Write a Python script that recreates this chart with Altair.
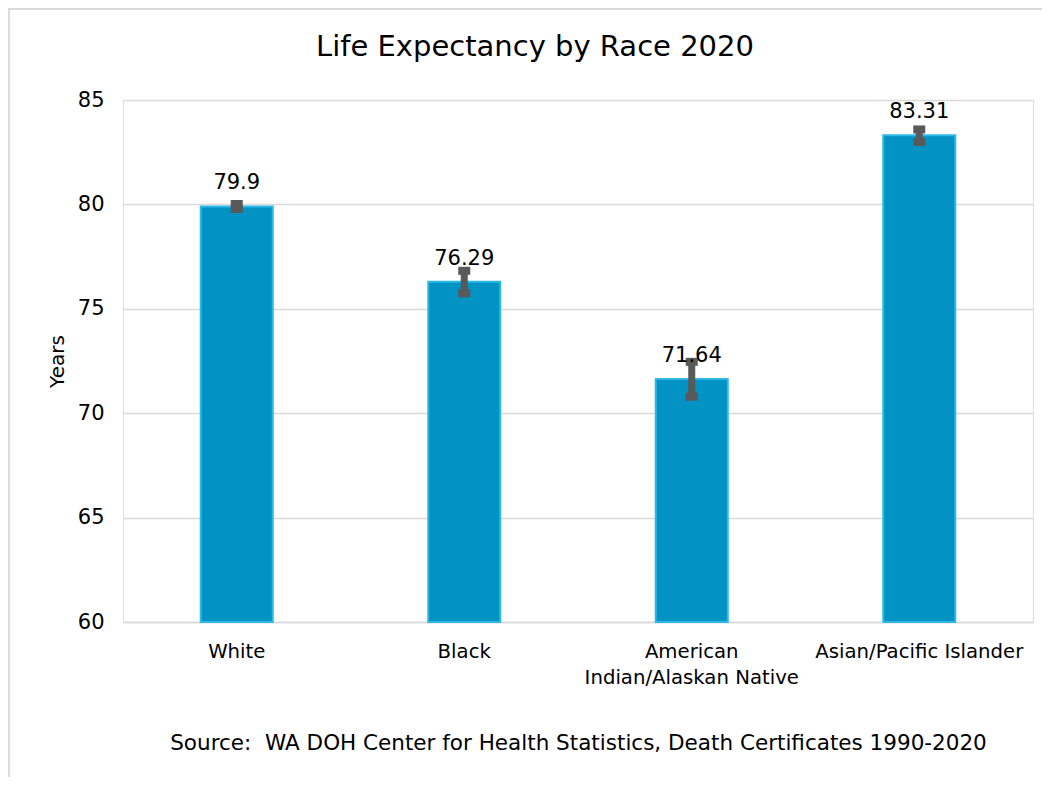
import altair as alt
import pandas as pd

categories = ["White", "Black", "American\nIndian/Alaskan Native", "Asian/Pacific Islander"]
values = [79.9, 76.29, 71.64, 83.31]
lower = [79.78, 75.74, 70.79, 82.99]
upper = [80.02, 76.82, 72.46, 83.59]
labels = ["79.9", "76.29", "71.64", "83.31"]
chart_title = "Life Expectancy by Race 2020"
source_note = "Source:\u00a0\u00a0WA DOH Center for Health Statistics, Death Certificates 1990-2020"

df = pd.DataFrame({"cat": categories, "val": values, "lo": lower, "hi": upper, "lab": labels, "base": [60] * 4})

FONT = "DejaVu Sans"
W, H = 910, 522

x = alt.X("cat:N", sort=categories,
          scale=alt.Scale(paddingInner=0, paddingOuter=0),
          axis=alt.Axis(title=source_note,
                        titleFontSize=21.5, titleFont=FONT, titleFontWeight="normal", titleColor="#000000",
                        titlePadding=46,
                        labelExpr="split(datum.value, '\\n')", labelAngle=0, labelFontSize=19.7,
                        labelFont=FONT, labelColor="#000000", labelPadding=19, labelLineHeight=26,
                        labelOverlap=False, labelLimit=0,
                        ticks=False, domainColor="#d9d9d9", domainWidth=1.5))
yscale = alt.Scale(domain=[60, 85], zero=False, nice=False)
yaxis = alt.Axis(title="Years", values=[60, 65, 70, 75, 80, 85], titleFontSize=20, titleFont=FONT,
                 titleFontWeight="normal", titleColor="#000000", titlePadding=10,
                 labelFontSize=21, labelFont=FONT, labelColor="#000000", labelPadding=19,
                 ticks=False, domain=False, gridColor="#d9d9d9", gridWidth=1.5)

base = alt.Chart(df)

bars = base.mark_bar(size=72, color="#0093c4", stroke="#2db8ea", strokeWidth=2).encode(
    x=x, y=alt.Y("val:Q", scale=yscale, axis=yaxis), y2="base:Q")

err = base.mark_rule(color="#595959", strokeWidth=7).encode(x=alt.X("cat:N", sort=categories), y="lo:Q", y2="hi:Q")
cap_lo = base.mark_tick(color="#595959", thickness=8, size=12, opacity=1).encode(x=alt.X("cat:N", sort=categories), y="lo:Q")
cap_hi = base.mark_tick(color="#595959", thickness=8, size=12, opacity=1).encode(x=alt.X("cat:N", sort=categories), y="hi:Q")

txt = base.mark_text(baseline="bottom", dy=-13, fontSize=21, font=FONT, color="#000000").encode(
    x=alt.X("cat:N", sort=categories), y="val:Q", text="lab:N")

title_df = pd.DataFrame({"t": [chart_title]})
title_mark = alt.Chart(title_df).mark_text(fontSize=29, font=FONT, color="#000000", baseline="middle", align="center").encode(
    x=alt.value(412), y=alt.value(-53), text="t:N")

border_top = alt.Chart(df).mark_rule(color="#d9d9d9", strokeWidth=2).encode(
    x=alt.value(-114.5), x2=alt.value(W + 9), y=alt.value(-91.5))
border_left = alt.Chart(df).mark_rule(color="#d9d9d9", strokeWidth=2).encode(
    x=alt.value(-114.5), y=alt.value(-91.5), y2=alt.value(H + 160))

chart = alt.layer(border_top, border_left, title_mark, bars, err, cap_lo, cap_hi, txt).properties(
    width=W, height=H,
    autosize=alt.AutoSizeParams(type="none"),
    padding={"left": 115, "top": 92, "right": 9, "bottom": 155},
).configure_view(stroke=None).configure(background="white")

chart.save("out.html", embed_options={"renderer": "svg", "actions": False})
